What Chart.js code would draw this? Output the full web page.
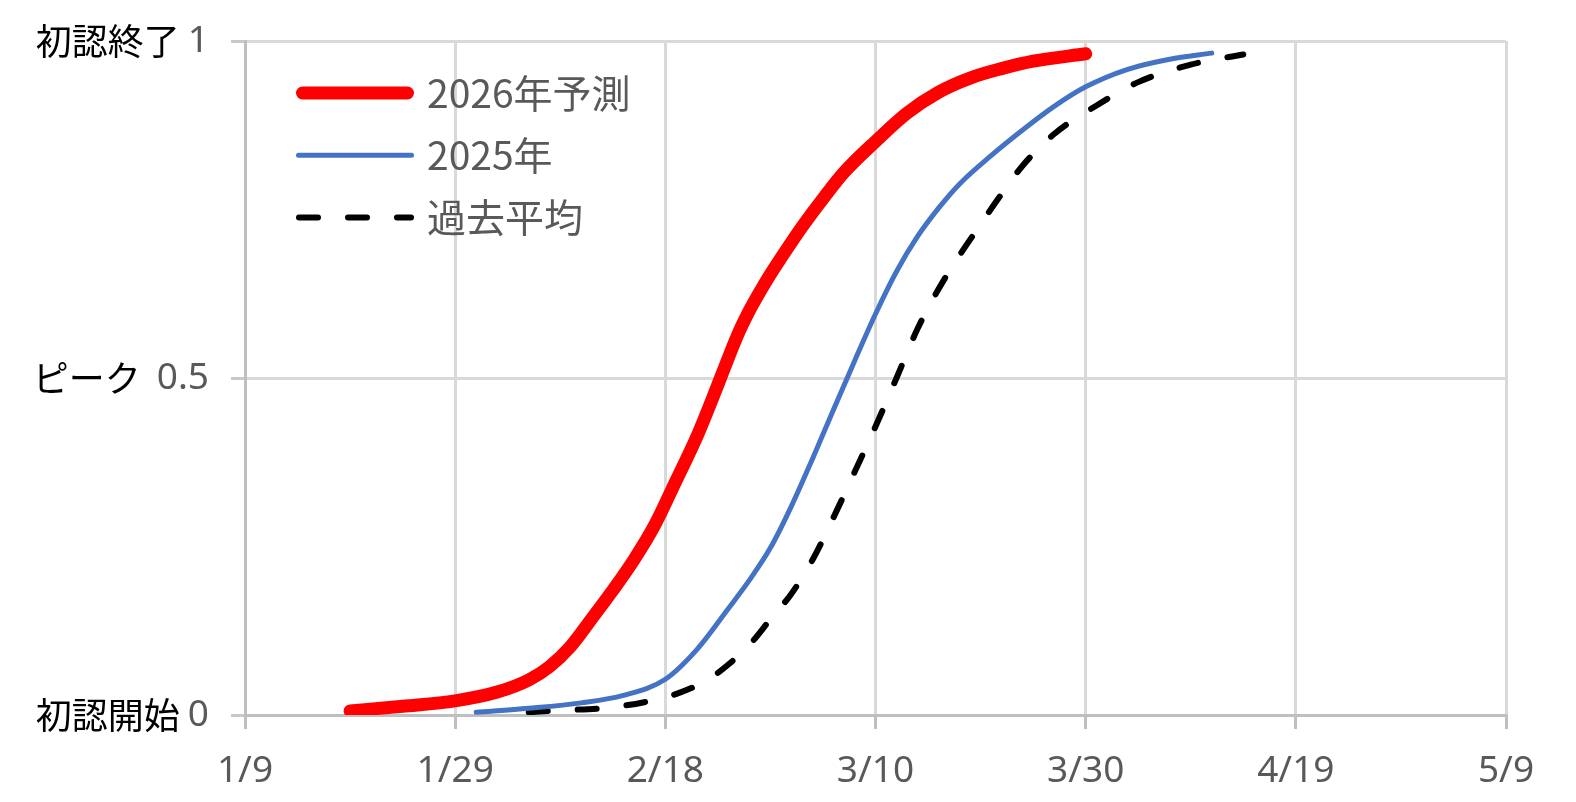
<!DOCTYPE html>
<html lang="ja">
<head>
<meta charset="utf-8">
<title>初認からの進行</title>
<script src="https://cdn.jsdelivr.net/npm/chart.js@4.4.1/dist/chart.umd.min.js"></script>
<style>
  html, body { margin: 0; padding: 0; background: #fff; }
  #chart { display: block; }
</style>
</head>
<body>
<canvas id="chart" width="1576" height="802"></canvas>
<script>
// tick labels
const xTickLabels = ['1/9', '1/29', '2/18', '3/10', '3/30', '4/19', '5/9'];
const yTickValues = [0, 0.5, 1];
const yStageLabels = ['初認開始', 'ピーク ', '初認終了'];

const seriesNames = ['2026年予測', '2025年', '過去平均'];

// 2026年予測
const forecast2026Dates = ['1/19', '1/24', '1/29', '2/2', '2/5', '2/7', '2/9', '2/11', '2/13', '2/15',
    '2/17', '2/19', '2/21', '2/23', '2/24', '2/25', '2/26', '2/27', '2/28', '3/1',
    '3/3', '3/5', '3/7', '3/10', '3/13', '3/16', '3/19', '3/22', '3/25', '3/30'];
const forecast2026Values = [0.006, 0.013, 0.021, 0.034, 0.052, 0.072, 0.102, 0.143, 0.185, 0.23,
    0.282, 0.347, 0.413, 0.49, 0.53, 0.568, 0.6, 0.628, 0.654, 0.678,
    0.724, 0.766, 0.805, 0.851, 0.893, 0.924, 0.945, 0.959, 0.97, 0.981];

// 2025年
const actual2025Dates = ['1/31', '2/5', '2/10', '2/14', '2/18', '2/21', '2/24', '2/26', '2/28', '3/2',
    '3/4', '3/6', '3/8', '3/10', '3/12', '3/14', '3/16', '3/18', '3/21', '3/24',
    '3/27', '3/30', '4/3', '4/7', '4/11'];
const actual2025Values = [0.004, 0.01, 0.018, 0.029, 0.053, 0.097, 0.158, 0.2, 0.248, 0.31,
    0.38, 0.453, 0.525, 0.595, 0.658, 0.71, 0.752, 0.788, 0.83, 0.868,
    0.903, 0.932, 0.958, 0.973, 0.982];

// 過去平均
const averageDates = ['2/5', '2/8', '2/12', '2/16', '2/19', '2/22', '2/24', '2/26', '2/28', '3/2',
    '3/4', '3/6', '3/8', '3/10', '3/12', '3/14', '3/16', '3/18', '3/20', '3/22',
    '3/24', '3/27', '3/31', '4/4', '4/9', '4/14'];
const averageValues = [0.004, 0.007, 0.01, 0.019, 0.031, 0.052, 0.075, 0.104, 0.142, 0.18,
    0.23, 0.293, 0.36, 0.428, 0.50, 0.573, 0.632, 0.682, 0.728, 0.773,
    0.815, 0.862, 0.904, 0.939, 0.965, 0.98];

const numberFont = { family: '"Noto Sans", "Open Sans", sans-serif', size: 37 };
const jpFont = '"Noto Sans CJK JP", sans-serif';
const greyText = '#595959';

// days counted from the first x tick (1/9, 2026)
function dayOf(md) {
    const [m, d] = md.split('/').map(Number);
    return (Date.UTC(2026, m - 1, d) - Date.UTC(2026, 0, 9)) / 86400000;
}

function toPoints(dates, values) {
    return dates.map((d, i) => ({ x: dayOf(d), y: values[i] }));
}

// Japanese stage names left of the y numbers
const stageLabels = {
    id: 'stageLabels',
    afterDraw(chart) {
        const scale = chart.scales.y;
        const ctx = chart.ctx;
        const rightX = scale.right - scale.options.grid.tickLength - scale.options.ticks.padding;
        ctx.save();
        ctx.textAlign = 'right';
        ctx.textBaseline = 'middle';
        scale.ticks.forEach((tick) => {
            const y = scale.getPixelForValue(tick.value);
            ctx.font = numberFont.size + 'px ' + numberFont.family;
            const w = ctx.measureText(String(tick.label)).width;
            ctx.font = '36px ' + jpFont;
            ctx.fillStyle = '#000';
            ctx.fillText(yStageLabels[yTickValues.indexOf(tick.value)], rightX - w - 8, y);
        });
        ctx.restore();
    }
};

// legend drawn inside the plot, top-left
const insideLegend = {
    id: 'insideLegend',
    afterDraw(chart) {
        const ctx = chart.ctx;
        const area = chart.chartArea;
        const x0 = area.left + 51;
        const x1 = area.left + 169;
        chart.data.datasets.forEach((ds, i) => {
            const y = area.top + 52 + i * 62.3;
            const inset = ds.borderWidth / 2;
            ctx.save();
            ctx.strokeStyle = ds.borderColor;
            ctx.lineWidth = ds.borderWidth;
            ctx.lineCap = 'round';
            ctx.setLineDash(ds.borderDash || []);
            ctx.beginPath();
            ctx.moveTo(x0 + inset, y);
            ctx.lineTo(x1 - inset, y);
            ctx.stroke();
            ctx.setLineDash([]);
            ctx.fillStyle = greyText;
            ctx.font = '39px ' + jpFont;
            ctx.textBaseline = 'middle';
            ctx.fillText(ds.label, area.left + 182, y);
            ctx.restore();
        });
    }
};

const ctx = document.getElementById('chart');
new Chart(ctx, {
    type: 'line',
    data: {
        datasets: [{
            label: seriesNames[0],
            data: toPoints(forecast2026Dates, forecast2026Values),
            borderColor: '#ff0000',
            borderWidth: 13,
            borderCapStyle: 'round',
            borderJoinStyle: 'round',
            cubicInterpolationMode: 'monotone',
            pointRadius: 0
        }, {
            label: seriesNames[1],
            data: toPoints(actual2025Dates, actual2025Values),
            borderColor: '#4472c4',
            borderWidth: 5,
            borderCapStyle: 'round',
            borderJoinStyle: 'round',
            cubicInterpolationMode: 'monotone',
            pointRadius: 0
        }, {
            label: seriesNames[2],
            data: toPoints(averageDates, averageValues),
            borderColor: '#000000',
            borderWidth: 6,
            borderDash: [19, 30],
            borderCapStyle: 'round',
            borderJoinStyle: 'round',
            cubicInterpolationMode: 'monotone',
            pointRadius: 0
        }]
    },
    options: {
        responsive: false,
        animation: false,
        layout: {
            padding: { top: 41, right: 70, left: 0, bottom: 0 }
        },
        plugins: {
            legend: { display: false },
            tooltip: { enabled: false }
        },
        scales: {
            x: {
                type: 'linear',
                min: dayOf(xTickLabels[0]),
                max: dayOf(xTickLabels[xTickLabels.length - 1]),
                afterBuildTicks: (scale) => {
                    scale.ticks = xTickLabels.map((l) => ({ value: dayOf(l) }));
                },
                afterFit: (scale) => { scale.height = 87; },
                ticks: {
                    callback: (v, i) => xTickLabels[i],
                    font: numberFont,
                    color: greyText,
                    padding: 20,
                    maxRotation: 0,
                    autoSkip: false
                },
                grid: {
                    color: '#d9d9d9',
                    lineWidth: 3,
                    tickLength: 14,
                    tickColor: '#bfbfbf'
                },
                border: { color: '#bfbfbf', width: 3 }
            },
            y: {
                min: 0,
                max: 1,
                afterBuildTicks: (scale) => {
                    scale.ticks = yTickValues.map((v) => ({ value: v }));
                },
                afterFit: (scale) => {
                    scale.width = 245;
                    scale.paddingTop = 0;
                    scale.paddingBottom = 0;
                },
                ticks: {
                    callback: (v) => String(v),
                    font: numberFont,
                    color: greyText,
                    padding: 22
                },
                grid: {
                    color: '#d9d9d9',
                    lineWidth: 3,
                    tickLength: 14,
                    tickColor: '#c8c8c8'
                },
                border: { color: '#bfbfbf', width: 3 }
            }
        }
    },
    plugins: [stageLabels, insideLegend]
});
</script>
</body>
</html>
